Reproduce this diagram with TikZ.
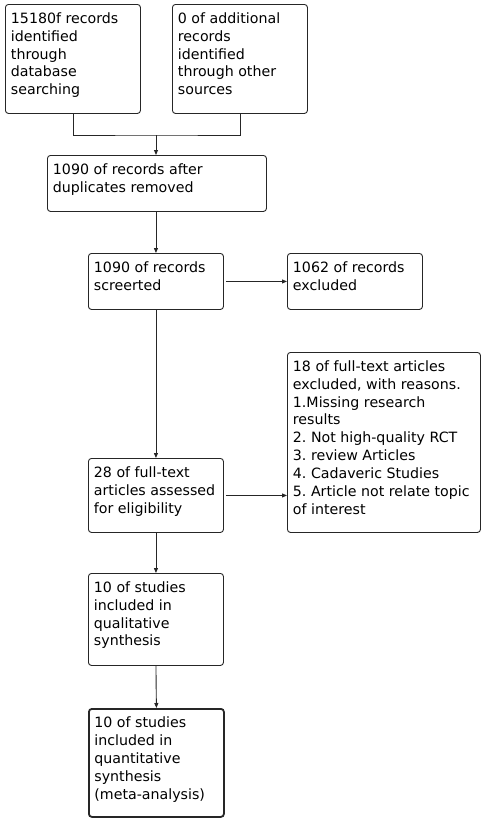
\documentclass[tikz,border=0pt]{standalone}
\usepackage{fontspec}
\setmainfont{DejaVu Sans}
\usetikzlibrary{arrows.meta}
\frenchspacing
\newcommand{\bt}[3]{\parbox[b][\dimexpr#2pt-16pt\relax][t]{\dimexpr#1pt-11pt\relax}{\raggedright\frenchspacing #3}}
\begin{document}
\begin{tikzpicture}[x=1pt,y=-1pt,
  box/.style={draw=black!85,line width=0.9pt,rounded corners=3pt,inner sep=0pt,anchor=north west,
    font=\fontsize{14.2}{17.9}\selectfont},
  thickbox/.style={box,line width=1.8pt},
  conn/.style={draw=black!85,line width=0.9pt},
  arr/.style={conn,-{Triangle[length=5pt,width=4pt]}}]
\useasboundingbox (0,0) rectangle (484,820);
\node[box,minimum width=135pt,minimum height=109pt] (A) at (5,4)
  {\bt{135}{109}{15180f records\\identified\\through\\database\\searching}};
\node[box,minimum width=135pt,minimum height=109pt] (B) at (172,4)
  {\bt{135}{109}{0 of additional\\records\\identified\\through other\\sources}};
\node[box,minimum width=219pt,minimum height=56pt] (C) at (47,155)
  {\bt{219}{56}{1090 of records after\\duplicates removed}};
\node[box,minimum width=135pt,minimum height=56pt] (D) at (88,253)
  {\bt{135}{56}{1090 of records\\screerted}};
\node[box,minimum width=135pt,minimum height=56pt] (E) at (287,253)
  {\bt{135}{56}{1062 of records\\excluded}};
\node[box,minimum width=193pt,minimum height=180pt] (F) at (287,352)
  {\bt{193}{180}{18 of full-text articles\\excluded, with reasons.\\1.Missing research\\results\\2. Not high-quality RCT\\3. review Articles\\4. Cadaveric Studies\\5. Article not relate topic\\of interest}};
\node[box,minimum width=135pt,minimum height=74pt] (G) at (88,458)
  {\bt{135}{74}{28 of full-text\\articles assessed\\for eligibility}};
\node[box,minimum width=135pt,minimum height=92pt] (H) at (88,573)
  {\bt{135}{92}{10 of studies\\included in\\qualitative\\synthesis}};
\node[thickbox,minimum width=135pt,minimum height=108pt] (I) at (88,708)
  {\bt{135}{108}{10 of studies\\included in\\quantitative\\synthesis\\(meta-analysis)}};
\coordinate (J) at (156,135);
\draw[conn] (A.south) |- (J) -| (B.south);
\draw[arr] (J) -- (J |- C.north);
\draw[arr] (D.north |- C.south) -- (D.north);
\draw[arr] ([xshift=2pt]D.east) -- (E.west);
\draw[arr] (D.south) -- (G.north);
\draw[arr] ([xshift=2pt]G.east) -- (G.east -| F.west);
\draw[arr] (G.south) -- (H.north);
\draw[arr] (H.south) -- (I.north);
\end{tikzpicture}
\end{document}
